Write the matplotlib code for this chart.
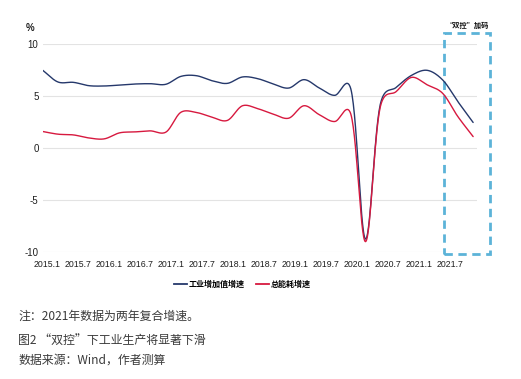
import numpy as np
import matplotlib
matplotlib.use("Agg")
import matplotlib.pyplot as plt
from matplotlib.patches import Rectangle
from matplotlib.lines import Line2D

# ---------------- data (quarter-end months, month 0 = 2015.1) ----------------
months = [-1, 2, 5, 8, 11, 14, 17, 20, 23, 26, 29, 32, 35, 38, 41, 44, 47, 50,
          53, 56, 59, 62, 65, 68, 71, 74, 77, 80, 83]
industry = [7.44, 6.31, 6.28, 5.96, 5.93, 6.02, 6.12, 6.15, 6.09, 6.86, 6.92,
            6.44, 6.18, 6.80, 6.63, 6.12, 5.73, 6.54, 5.73, 5.03, 5.85, -8.80,
            4.40, 5.80, 6.96, 7.44, 6.54, 4.44, 2.42]
energy = [1.55, 1.29, 1.22, 0.93, 0.84, 1.42, 1.51, 1.61, 1.48, 3.41, 3.38,
          2.93, 2.61, 4.03, 3.74, 3.22, 2.83, 4.03, 3.16, 2.51, 3.40, -9.05,
          4.15, 5.40, 6.76, 6.05, 5.25, 3.00, 1.06]
tick_labels = ["2015.1", "2015.7", "2016.1", "2016.7", "2017.1", "2017.7",
               "2018.1", "2018.7", "2019.1", "2019.7", "2020.1", "2020.7",
               "2021.1", "2021.7"]
yticks = [-10, -5, 0, 5, 10]
series_names = ["工业增加值增速", "总能耗增速"]
box_title = "“双控”加码"
notes = ["注：2021年数据为两年复合增速。",
         "图2 “双控”下工业生产将显著下滑",
         "数据来源：Wind，作者测算"]

CJK = ["Noto Sans CJK SC", "DejaVu Sans"]
LAT = ["Liberation Sans", "DejaVu Sans"]

# approximate pixel scale used only for the curve-smoothing metric
SX, SY = 5.13, 10.39


def smooth(xs, ys, n=30, alpha=0.2):
    """Catmull-Rom rendering (mildly centripetal) of a smoothed line."""
    P = np.column_stack([np.asarray(xs, float) * SX, np.asarray(ys, float) * SY])
    P = np.vstack([2 * P[0] - P[1], P, 2 * P[-1] - P[-2]])
    out = []
    for i in range(1, len(P) - 2):
        P0, P1, P2, P3 = P[i - 1], P[i], P[i + 1], P[i + 2]
        t0 = 0.0
        t1 = t0 + np.linalg.norm(P1 - P0) ** alpha
        t2 = t1 + np.linalg.norm(P2 - P1) ** alpha
        t3 = t2 + np.linalg.norm(P3 - P2) ** alpha
        t = np.linspace(t1, t2, n, endpoint=False)[:, None]
        A1 = (t1 - t) / (t1 - t0) * P0 + (t - t0) / (t1 - t0) * P1
        A2 = (t2 - t) / (t2 - t1) * P1 + (t - t1) / (t2 - t1) * P2
        A3 = (t3 - t) / (t3 - t2) * P2 + (t - t2) / (t3 - t2) * P3
        B1 = (t2 - t) / (t2 - t0) * A1 + (t - t0) / (t2 - t0) * A2
        B2 = (t3 - t) / (t3 - t1) * A2 + (t - t1) / (t3 - t1) * A3
        C = (t2 - t) / (t2 - t1) * B1 + (t - t1) / (t2 - t1) * B2
        out.append(C)
    out.append(P[-2][None, :])
    C = np.vstack(out)
    return C[:, 0] / SX, C[:, 1] / SY


fig = plt.figure(figsize=(5.21, 3.79), dpi=100)
ax = fig.add_axes([0.082, 0.3364, 0.833, 0.5483])

blue = "#25386b"
red = "#d7193f"

ax.set_ylim(-10, 10)
ax.set_xlim(-1, 83.7)
ax.set_yticks(yticks)
ax.yaxis.grid(True, color="#e3e3e3", linewidth=0.8)
ax.set_axisbelow(True)
for s in ax.spines.values():
    s.set_visible(False)
ax.tick_params(axis="both", length=0, colors="#1e1e1e")
ax.set_yticklabels([str(v) for v in yticks], fontsize=7, family=LAT)
ax.tick_params(axis="y", pad=3)

tick_pos = [i * 6.05 - 0.15 for i in range(len(tick_labels))]
ax.set_xticks(tick_pos)
ax.set_xticklabels(tick_labels, fontsize=6.3, family=LAT)
ax.tick_params(axis="x", pad=6)

bx, by = smooth(months, industry)
rx, ry = smooth(months, energy)
ax.plot(bx, by, color=blue, lw=1.0, solid_capstyle="round")
ax.plot(rx, ry, color=red, lw=1.0, solid_capstyle="round")

ax.text(-0.02, 1.05, "%", transform=ax.transAxes, ha="right", va="bottom",
        fontsize=7, family=LAT, color="#1e1e1e", fontweight="bold")

# dashed highlight box
rect = Rectangle((77.35, -10.22), 8.9, 21.28, fill=False, ls=(0, (3, 2)),
                 lw=2.0, edgecolor="#5cb3d8", clip_on=False)
ax.add_patch(rect)
ax.text(81.8, 11.45, box_title, ha="center", va="bottom", fontsize=5.2,
        family=CJK, fontweight="bold", color="#111111", clip_on=False)

handles = [Line2D([], [], color=blue, lw=1.3), Line2D([], [], color=red, lw=1.3)]
fig.legend(handles, series_names, loc="center", bbox_to_anchor=(0.465, 0.251),
           ncol=2, frameon=False, handlelength=1.6, handletextpad=0.2,
           columnspacing=1.4, prop={"family": CJK, "size": 5.8, "weight": "bold"})

for txt, yy in zip(notes, [0.166, 0.103, 0.050]):
    fig.text(0.035, yy, txt, ha="left", va="center", fontsize=8.6,
             family=CJK, color="#3a3a3a")

fig.savefig("out.png", dpi=100)
